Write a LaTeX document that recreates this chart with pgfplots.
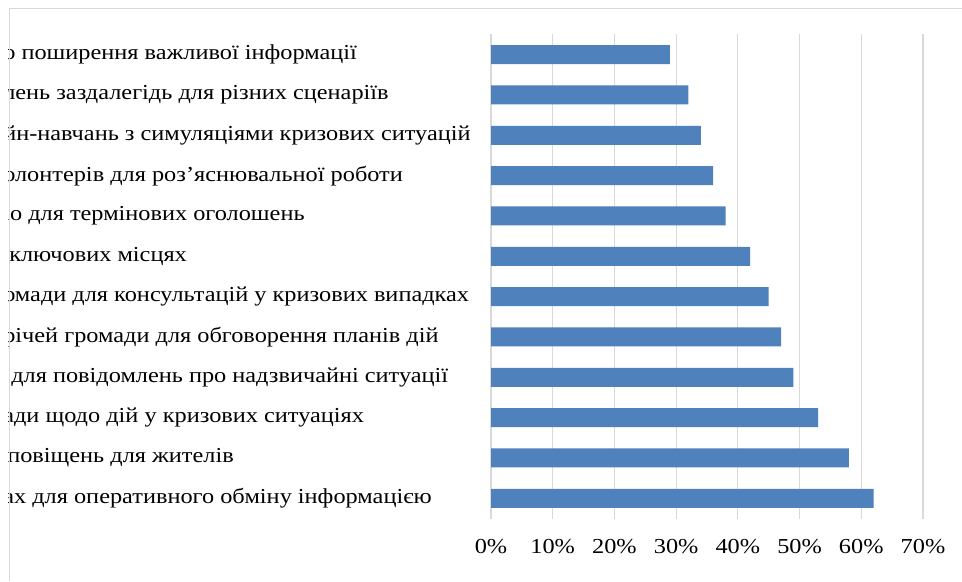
\documentclass[border=0pt]{standalone}
\usepackage{pgfplots}
\pgfplotsset{compat=1.18}
\usepackage{fontspec}
\setmainfont{Liberation Serif}[FakeStretch=1.14]
\definecolor{barblue}{HTML}{4F81BD}
\definecolor{gridgrey}{HTML}{D9D9D9}
\begin{document}
\begin{tikzpicture}[x=0.75pt,y=0.75pt]
\useasboundingbox (0,0) rectangle (962,581);
\fill[white] (0,0) rectangle (962,581);
\begin{scope}
\clip (8,0) rectangle (962,581);
\begin{axis}[
  at={(368.25pt,46.875pt)}, anchor=south west,
  scale only axis, width=324pt, height=363pt,
  xbar, bar width=14.25pt,
  xmin=0, xmax=70, ymin=-0.5, ymax=11.5,
  xtick={0,10,...,70},
  xticklabel={\pgfmathprintnumber{\tick}\%},
  /pgf/number format/assume math mode=true,
  ytick={0,...,11},
  yticklabels={
    ах для оперативного обміну інформацією,
    \hspace{3pt}повіщень для жителів,
    ади щодо дій у кризових ситуаціях,
    \hspace{6pt}для повідомлень про надзвичайні ситуації,
    річей громади для обговорення планів дій,
    омади для консультацій у кризових випадках,
    \hspace{4.5pt}ключових місцях,
    іо для термінових оголошень,
    олонтерів для роз’яснювальної роботи,
    йн-навчань з симуляціями кризових ситуацій,
    лень заздалегідь для різних сценаріїв,
    о поширення важливої інформації},
  yticklabel style={anchor=west, inner sep=0pt, xshift=-366pt, font=\fontsize{16}{19}\selectfont},
  xticklabel style={anchor=north, inner sep=0pt, yshift=-15.25pt, font=\fontsize{16}{19}\selectfont},
  xmajorgrids, grid style={gridgrey, line width=0.9pt},
  axis line style={draw=none},
  major tick length=0pt,
  xtick style={draw=none},
  ytick style={draw=none},
]
\addplot[fill=barblue, draw=none] coordinates {
  (62,0) (58,1) (53,2) (49,3) (47,4) (45,5) (42,6) (38,7) (36,8) (34,9) (32,10) (29,11)
};
\end{axis}
\end{scope}
\draw[gridgrey, line width=1pt] (9.5,0) -- (9.5,572.5) -- (962,572.5);
\end{tikzpicture}
\end{document}
